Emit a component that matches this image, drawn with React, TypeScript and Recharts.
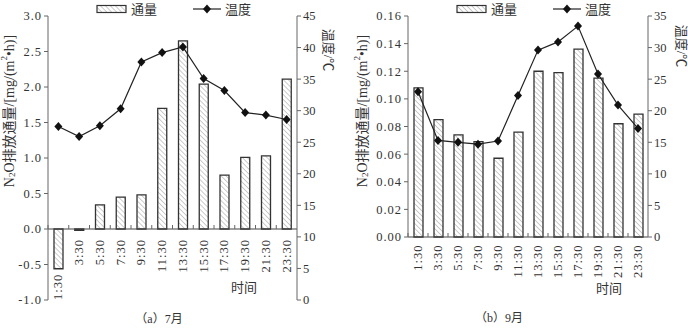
import { Bar, ComposedChart, Line, XAxis, YAxis, ReferenceLine } from "recharts"

const times = ["1:30", "3:30", "5:30", "7:30", "9:30", "11:30", "13:30", "15:30", "17:30", "19:30", "21:30", "23:30"]

// 7月
const julyFlux = [-0.56, -0.02, 0.34, 0.45, 0.48, 1.7, 2.65, 2.04, 0.76, 1.01, 1.03, 2.11]
const julyTemp = [27.5, 25.9, 27.6, 30.3, 37.7, 39.2, 40.1, 35.1, 33.2, 29.7, 29.3, 28.6]
const julyFluxTicks = [-1, -0.5, 0, 0.5, 1, 1.5, 2, 2.5, 3]
const julyTempTicks = [0, 5, 10, 15, 20, 25, 30, 35, 40, 45]

// 9月
const septFlux = [0.108, 0.085, 0.074, 0.069, 0.057, 0.076, 0.12, 0.119, 0.136, 0.115, 0.082, 0.089]
const septTemp = [23.0, 15.3, 15.0, 14.7, 15.2, 22.4, 29.6, 30.9, 33.4, 25.8, 20.9, 17.2]
const septFluxTicks = [0, 0.02, 0.04, 0.06, 0.08, 0.1, 0.12, 0.14, 0.16]
const septTempTicks = [0, 5, 10, 15, 20, 25, 30, 35]

const FONT = "'Liberation Serif', 'Noto Sans CJK SC', serif"
const INK = "#333"
const AXIS = "#666"

const W = 344
const H = 328
const TOP = 16

const Diamond = (props: any) => {
  const { cx, cy } = props
  if (cx == null || cy == null) return null
  return <path d={`M${cx},${cy - 4.5} L${cx + 4},${cy} L${cx},${cy + 4.5} L${cx - 4},${cy} Z`} fill="#111" />
}

type PanelProps = {
  flux: number[]
  temp: number[]
  fluxTicks: number[]
  tempTicks: number[]
  decimals: number
  leftW: number
  rightW: number
  bottomH: number
  labelGap: number
}

function Panel({ flux, temp, fluxTicks, tempTicks, decimals, leftW, rightW, bottomH, labelGap }: PanelProps) {
  const data = times.map((t, i) => ({ time: t, flux: flux[i], temp: temp[i] }))
  const fMin = fluxTicks[0]
  const fMax = fluxTicks[fluxTicks.length - 1]
  const plotH = H - TOP - bottomH
  const plotW = W - leftW - rightW
  const bandW = plotW / times.length
  const pxPerUnit = plotH / (fMax - fMin)
  const zeroY = TOP + fMax * pxPerUnit

  const TimeTick = (props: any) => {
    const { x, payload } = props
    const i = times.indexOf(payload.value)
    const v = flux[i]
    const drop = Math.max(labelGap, -v * pxPerUnit + 5)
    const ty = zeroY + drop
    return (
      <g>
        <line x1={x - bandW / 2} x2={x - bandW / 2} y1={zeroY} y2={zeroY - 4} stroke={AXIS} />
        <text
          x={x}
          y={ty}
          transform={`rotate(-90 ${x} ${ty})`}
          textAnchor="end"
          dominantBaseline="central"
          fontSize={12.5}
          fontFamily={FONT}
          fill={INK}
          letterSpacing={1}
        >
          {payload.value}
        </text>
      </g>
    )
  }

  return (
    <ComposedChart width={W} height={H} data={data} margin={{ top: TOP, right: 0, bottom: 0, left: 0 }}>
      <XAxis
        dataKey="time"
        xAxisId="t"
        height={bottomH}
        axisLine={false}
        tickLine={false}
        interval={0}
        tick={<TimeTick />}
      />
      <YAxis
        yAxisId="flux"
        width={leftW}
        domain={[fMin, fMax]}
        ticks={fluxTicks}
        tickFormatter={(v: number) => v.toFixed(decimals)}
        stroke={AXIS}
        tickSize={4}
        tick={{ fill: INK, fontSize: 12.5, fontFamily: FONT, letterSpacing: 1 }}
      />
      <YAxis
        yAxisId="temp"
        orientation="right"
        width={rightW}
        domain={[tempTicks[0], tempTicks[tempTicks.length - 1]]}
        ticks={tempTicks}
        stroke={AXIS}
        tickSize={4}
        tick={{ fill: INK, fontSize: 12.5, fontFamily: FONT }}
      />
      <ReferenceLine y={0} yAxisId="flux" xAxisId="t" stroke="#444" strokeWidth={1.2} />
      <Bar
        dataKey="flux"
        yAxisId="flux"
        xAxisId="t"
        barSize={9}
        fill="url(#hatch)"
        stroke="#333"
        strokeWidth={1.3}
        isAnimationActive={false}
      />
      <Line
        dataKey="temp"
        yAxisId="temp"
        xAxisId="t"
        stroke="#222"
        strokeWidth={1.2}
        dot={<Diamond />}
        activeDot={false}
        isAnimationActive={false}
      />
    </ComposedChart>
  )
}

function Legend({ x }: { x: number }) {
  return (
    <g fontFamily={FONT} fontSize={13} fill={INK}>
      <rect x={x} y={5.5} width={29} height={7} fill="url(#hatch)" stroke="#333" strokeWidth={1.2} />
      <text x={x + 34} y={9} dominantBaseline="central">通量</text>
      <line x1={x + 96} x2={x + 124} y1={9} y2={9} stroke="#222" strokeWidth={1.2} />
      <path d={`M${x + 110},${4.5} L${x + 114},9 L${x + 110},${13.5} L${x + 106},9 Z`} fill="#111" />
      <text x={x + 128} y={9} dominantBaseline="central">温度</text>
    </g>
  )
}

function FluxTitle({ x, y }: { x: number; y: number }) {
  return (
    <text x={x} y={y} transform={`rotate(-90 ${x} ${y})`} textAnchor="middle" dominantBaseline="central" fontSize={14}>
      N<tspan fontSize={9} dy={3}>2</tspan>
      <tspan dy={-3}>O排放通量/[mg/(m</tspan>
      <tspan fontSize={9} dy={-5}>2</tspan>
      <tspan dy={5}>•h)]</tspan>
    </text>
  )
}

export default function App() {
  return (
    <div style={{ position: "absolute", left: 0, top: 0, width: 688, height: 328, background: "#fff" }}>
      <svg width={0} height={0} style={{ position: "absolute" }}>
        <defs>
          <pattern id="hatch" patternUnits="userSpaceOnUse" width={3.5} height={3.5} patternTransform="rotate(-45)">
            <rect width={3.5} height={3.5} fill="#fff" />
            <line x1={0} y1={0} x2={0} y2={3.5} stroke="#999" strokeWidth={1} />
          </pattern>
        </defs>
      </svg>
      <div style={{ position: "absolute", left: 0, top: 0 }}>
        <Panel
          flux={julyFlux}
          temp={julyTemp}
          fluxTicks={julyFluxTicks}
          tempTicks={julyTempTicks}
          decimals={1}
          leftW={48}
          rightW={47}
          bottomH={28}
          labelGap={10}
        />
      </div>
      <div style={{ position: "absolute", left: 344, top: 0 }}>
        <Panel
          flux={septFlux}
          temp={septTemp}
          fluxTicks={septFluxTicks}
          tempTicks={septTempTicks}
          decimals={2}
          leftW={64}
          rightW={40}
          bottomH={91}
          labelGap={7.5}
        />
      </div>
      <svg width={688} height={328} style={{ position: "absolute", left: 0, top: 0, pointerEvents: "none" }}>
        <Legend x={97} />
        <Legend x={457} />
        <g fontFamily={FONT} fontSize={13} fill={INK}>
          <FluxTitle x={9} y={111} />
          <FluxTitle x={362} y={111} />
          <text x={328} y={50} transform="rotate(90 328 50)" textAnchor="middle" dominantBaseline="central">温度/℃</text>
          <text x={681} y={46} transform="rotate(90 681 46)" textAnchor="middle" dominantBaseline="central">温度/℃</text>
          <text x={244} y={287} textAnchor="middle" dominantBaseline="central">时间</text>
          <text x={609} y={288} textAnchor="middle" dominantBaseline="central">时间</text>
          <text x={159} y={319} textAnchor="middle" dominantBaseline="central" fontSize={12}>（a）7月</text>
          <text x={499} y={318} textAnchor="middle" dominantBaseline="central" fontSize={12}>（b）9月</text>
        </g>
      </svg>
    </div>
  )
}
